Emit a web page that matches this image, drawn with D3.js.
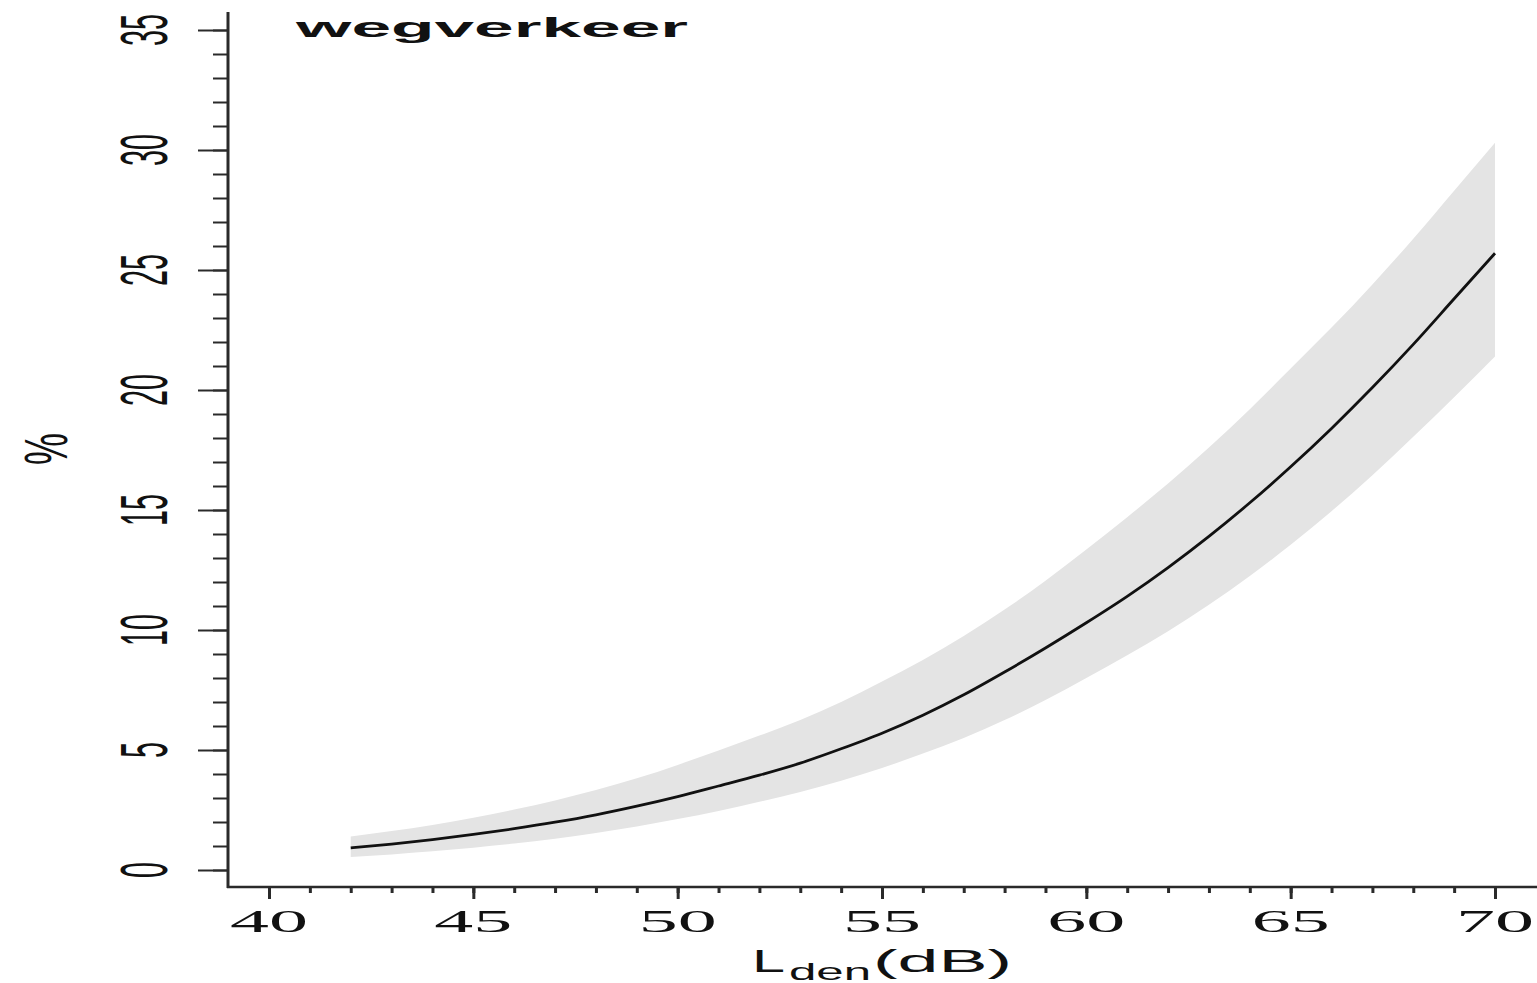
<!DOCTYPE html>
<html>
<head>
<meta charset="utf-8">
<script src="https://cdn.jsdelivr.net/npm/d3@7"></script>
<style>
  html, body { margin: 0; padding: 0; background: #ffffff; }
  svg { display: block; }
</style>
</head>
<body>
<svg id="chart" width="1537" height="983"></svg>
<script>
// ---- data ----
const lden = [42,43,44,45,46,47,48,49,50,51,52,53,54,55,56,57,58,59,60,61,62,63,64,65,66,67,68,69,70];
const pct = [0.92,1.08,1.27,1.48,1.72,1.99,2.30,2.66,3.06,3.50,3.95,4.45,5.05,5.70,6.45,7.30,8.25,9.25,10.3,11.4,12.6,13.9,15.3,16.8,18.4,20.1,21.9,23.8,25.7];
const pctUpper = [1.40,1.62,1.88,2.18,2.52,2.90,3.33,3.82,4.38,4.98,5.60,6.25,7.00,7.85,8.75,9.75,10.85,12.05,13.35,14.7,16.1,17.6,19.2,20.9,22.6,24.4,26.3,28.3,30.3];
const pctLower = [0.54,0.65,0.78,0.93,1.10,1.30,1.54,1.81,2.12,2.46,2.84,3.25,3.72,4.25,4.85,5.50,6.25,7.08,8.00,8.95,9.95,11.05,12.25,13.55,14.95,16.45,18.05,19.7,21.4];
const xTicksMajor = [40,45,50,55,60,65,70];
const xTicksMinor = d3.range(40, 71, 1);
const yTicksMajor = [0,5,10,15,20,25,30,35];
const yTicksMinor = d3.range(0, 36, 1);
const titleText = "wegverkeer";
const yLabel = "%";

// ---- scales ----
const x = d3.scaleLinear().domain([40, 70]).range([269, 1495]);
const y = d3.scaleLinear().domain([0, 35]).range([870, 30]);

const svg = d3.select("#chart");
const rows = lden.map((v, i) => ({ x: v, y: pct[i], lo: pctLower[i], hi: pctUpper[i] }));

// confidence band
const area = d3.area()
  .x(d => x(d.x)).y0(d => y(d.lo)).y1(d => y(d.hi))
  .curve(d3.curveMonotoneX);
svg.append("path").datum(rows)
  .attr("d", area)
  .attr("fill", "#e4e4e4")
  .attr("stroke", "none");

// central curve
const line = d3.line().x(d => x(d.x)).y(d => y(d.y)).curve(d3.curveMonotoneX);
svg.append("path").datum(rows)
  .attr("d", line)
  .attr("fill", "none")
  .attr("stroke", "#111")
  .attr("stroke-width", 2.8);

// ---- axes ----
const axisColor = "#2a2a2a";
const yMinorAxis = d3.axisLeft(y).tickValues(yTicksMinor).tickSize(15).tickFormat("");
const yMajorAxis = d3.axisLeft(y).tickValues(yTicksMajor).tickSize(30).tickFormat("");
const xMinorAxis = d3.axisBottom(x).tickValues(xTicksMinor).tickSize(6).tickFormat("");
const xMajorAxis = d3.axisBottom(x).tickValues(xTicksMajor).tickSize(12).tickFormat("");

function styleAxis(g, w) {
  g.select(".domain").remove();
  g.selectAll(".tick line").attr("stroke", axisColor).attr("stroke-width", w);
}
svg.append("g").attr("transform", "translate(228,0)").call(yMinorAxis).call(g => styleAxis(g, 2));
svg.append("g").attr("transform", "translate(228,0)").call(yMajorAxis).call(g => styleAxis(g, 2));
svg.append("g").attr("transform", "translate(0,887)").call(xMinorAxis).call(g => styleAxis(g, 3));
svg.append("g").attr("transform", "translate(0,887)").call(xMajorAxis).call(g => styleAxis(g, 3));

// axis lines
svg.append("line")
  .attr("x1", 228).attr("x2", 228)
  .attr("y1", y(35.75)).attr("y2", 888)
  .attr("stroke", axisColor).attr("stroke-width", 3);
svg.append("line")
  .attr("x1", 227).attr("x2", x(71.2))
  .attr("y1", 887).attr("y2", 887)
  .attr("stroke", axisColor).attr("stroke-width", 2.5);

// y tick labels (rotated, tall narrow)
svg.append("g").selectAll("text").data(yTicksMajor).join("text")
  .attr("transform", d => `translate(167,${y(d)}) rotate(-90)`)
  .attr("text-anchor", "middle")
  .attr("font-family", "Liberation Sans, Arial, sans-serif")
  .attr("font-size", 66)
  .attr("textLength", d => String(d).length === 1 ? 16 : 32)
  .attr("lengthAdjust", "spacingAndGlyphs")
  .attr("fill", "#111")
  .text(d => d);

// x tick labels (wide)
svg.append("g").selectAll("text").data(xTicksMajor).join("text")
  .attr("x", d => x(d) - 39)
  .attr("y", 932)
  .attr("font-family", "Liberation Serif, Times New Roman, serif")
  .attr("font-size", 31)
  .attr("textLength", 78)
  .attr("lengthAdjust", "spacingAndGlyphs")
  .attr("fill", "#111")
  .text(d => d);

// title
svg.append("text")
  .attr("x", 296).attr("y", 37)
  .attr("font-family", "Liberation Sans, Arial, sans-serif")
  .attr("font-weight", "bold")
  .attr("font-size", 27)
  .attr("textLength", 392)
  .attr("lengthAdjust", "spacingAndGlyphs")
  .attr("fill", "#111")
  .text(titleText);

// y axis label
svg.append("text")
  .attr("transform", "translate(67,449) rotate(-90)")
  .attr("text-anchor", "middle")
  .attr("font-family", "Liberation Sans, Arial, sans-serif")
  .attr("font-size", 62)
  .attr("textLength", 32)
  .attr("lengthAdjust", "spacingAndGlyphs")
  .attr("fill", "#111")
  .text(yLabel);

// x axis label: L_den(dB)
const xl = svg.append("g").attr("font-family", "Liberation Sans, Arial, sans-serif").attr("fill", "#111");
xl.append("text").attr("x", 752).attr("y", 972).attr("font-size", 31)
  .attr("textLength", 33).attr("lengthAdjust", "spacingAndGlyphs").text("L");
xl.append("text").attr("x", 789).attr("y", 980).attr("font-size", 24)
  .attr("textLength", 82).attr("lengthAdjust", "spacingAndGlyphs").text("den");
xl.append("text").attr("x", 873).attr("y", 972).attr("font-size", 31)
  .attr("textLength", 139).attr("lengthAdjust", "spacingAndGlyphs").text("(dB)");
</script>
</body>
</html>
